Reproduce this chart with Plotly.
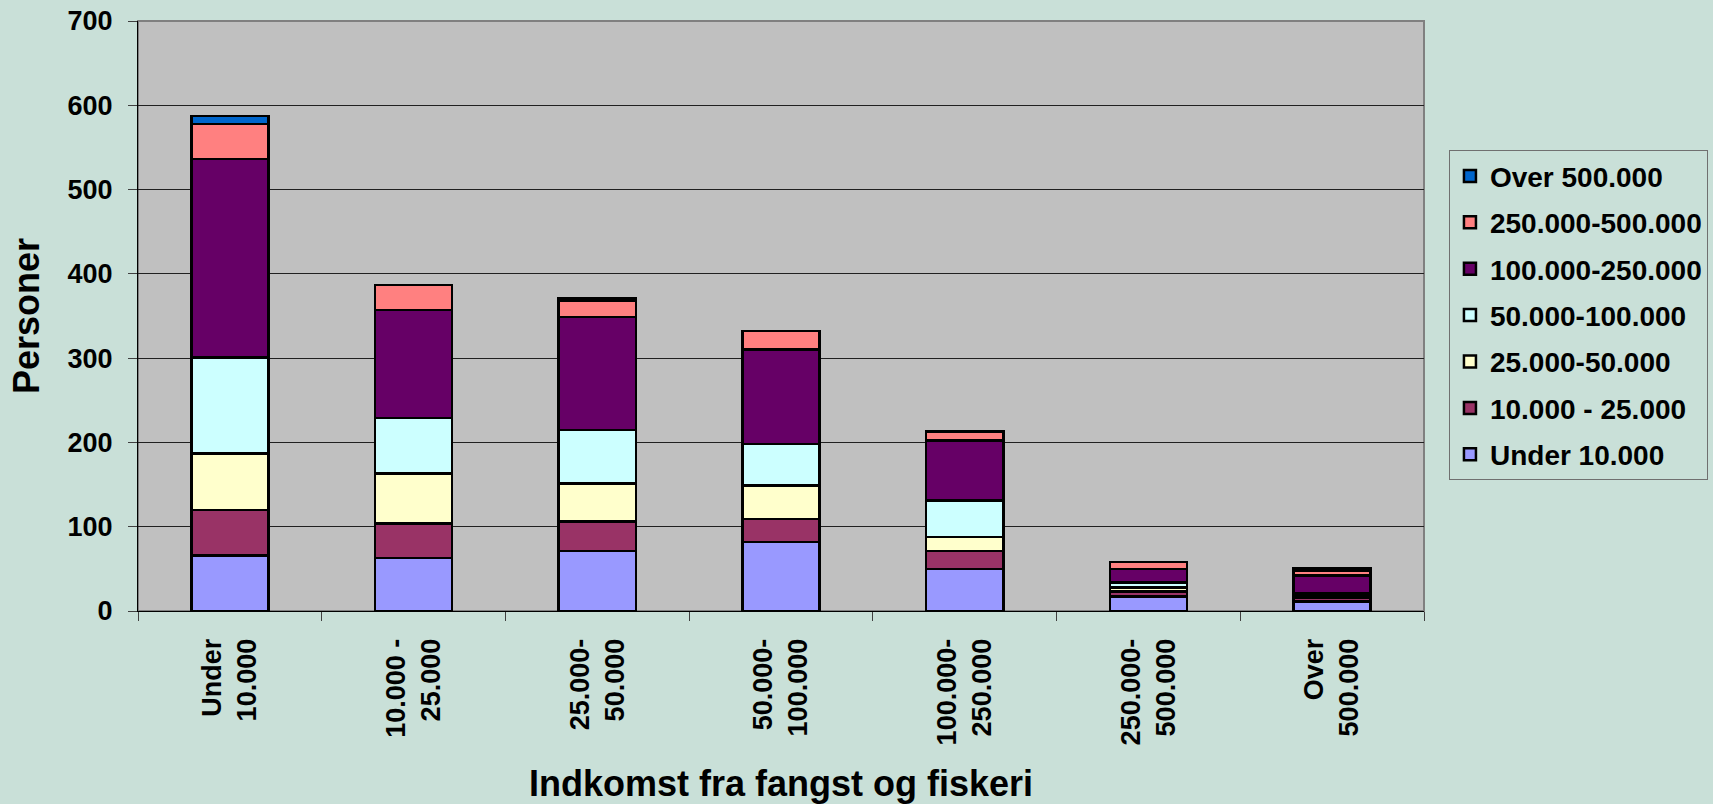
import plotly.graph_objects as go

categories = ["Under<br>10.000", "10.000 -<br>25.000", "25.000-<br>50.000", "50.000-<br>100.000",
              "100.000-<br>250.000", "250.000-<br>500.000", "Over<br>500.000"]

under_10 = [66, 63, 71, 82, 50, 17, 11]
s_10_25 = [54, 41, 35, 27, 21, 6, 5]
s_25_50 = [67, 59, 45, 40, 17, 5, 2]
s_50_100 = [114, 66, 64, 49, 43, 6, 3]
s_100_250 = [235, 128, 134, 112, 71, 16, 21]
s_250_500 = [42, 30, 19, 22, 11, 8, 6]
over_500 = [9, 0, 3, 0, 0, 0, 3]

series = [
    ("Under 10.000", under_10, "#9999FF"),
    ("10.000 - 25.000", s_10_25, "#993366"),
    ("25.000-50.000", s_25_50, "#FFFFCC"),
    ("50.000-100.000", s_50_100, "#CCFFFF"),
    ("100.000-250.000", s_100_250, "#660066"),
    ("250.000-500.000", s_250_500, "#FF8080"),
    ("Over 500.000", over_500, "#0066CC"),
]

BG = "#C9E0D8"
FONT = "Liberation Sans, Arial, sans-serif"

fig = go.Figure()
for i, (name, vals, col) in enumerate(series):
    fig.add_trace(go.Bar(
        x=categories, y=vals, name=name, legendgroup=name,
        legendrank=1000 - i,
        marker=dict(color=col, line=dict(color="black", width=2.5)),
    ))

fig.update_layout(
    barmode="stack",
    bargap=0.58,
    width=1713, height=804,
    paper_bgcolor=BG,
    plot_bgcolor="#C0C0C0",
    margin=dict(l=138, r=289, t=21, b=193, autoexpand=False),
    font=dict(family=FONT, color="black", size=27, weight="bold"),
    legend=dict(
        x=1.0194, y=0.781, xanchor="left", yanchor="top",
        bgcolor=BG, bordercolor="#707070", borderwidth=1,
        font=dict(family=FONT, size=28, color="black", weight="bold"),
        traceorder="grouped", tracegroupgap=7,
    ),
    xaxis=dict(
        type="category",
        automargin=False,
        tickangle=-90,
        tickson="boundaries",
        ticks="outside", ticklen=9, tickcolor="#404040",
        ticklabelstandoff=16,
        showline=True, linecolor="black", linewidth=1,
        showgrid=False,
        tickfont=dict(size=27, family=FONT, weight="bold"),
        title=dict(text="Indkomst fra fangst og fiskeri", standoff=34,
                   font=dict(size=36, family=FONT, weight="bold")),
    ),
    yaxis=dict(
        range=[0, 700], dtick=100, tick0=0,
        automargin=False,
        ticks="outside", ticklen=9, tickcolor="#404040",
        ticklabelstandoff=10,
        showline=True, linecolor="black", linewidth=1,
        showgrid=True, gridcolor="#202020", gridwidth=1,
        zeroline=False,
        tickfont=dict(size=27, family=FONT, weight="bold"),
        title=dict(text="Personer", standoff=16,
                   font=dict(size=36, family=FONT, weight="bold")),
    ),
    shapes=[dict(type="rect", xref="paper", yref="paper", x0=0, x1=1, y0=0, y1=1,
                 line=dict(color="#808080", width=2), layer="below")],
)

fig.write_html(
    "out.html",
    config={"displayModeBar": False},
    post_script="document.body.style.margin='0';document.body.style.background='" + BG + "';"
                "window.dispatchEvent(new Event('resize'));",
)
